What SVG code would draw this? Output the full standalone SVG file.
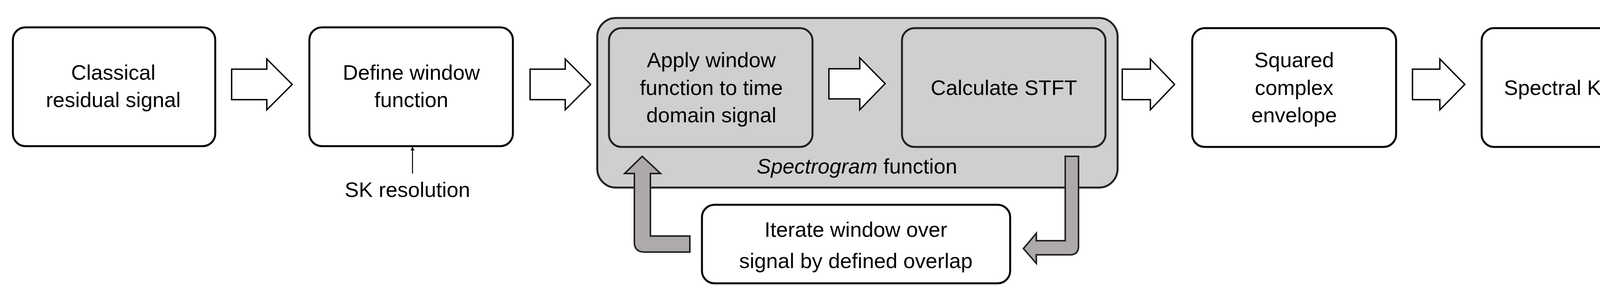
<svg xmlns="http://www.w3.org/2000/svg" width="4361" height="760" viewBox="0 0 4361 760">
<defs>
<style>
.box{fill:#fff;stroke:#000;stroke-width:5}
.gbox{fill:#d0cece;stroke:#222;stroke-width:5}
.blk{fill:#fff;stroke:#000;stroke-width:3.5}
.gar{fill:#aeaaaa;stroke:#222;stroke-width:4}
text{font-family:"Liberation Sans",Arial,sans-serif;font-size:54px;fill:#000;text-anchor:middle}
</style>
<marker id="ah" markerWidth="10" markerHeight="10" refX="9" refY="5" orient="auto" markerUnits="userSpaceOnUse" viewBox="0 0 10 10"><path d="M0,0 L10,5 L0,10 z" fill="#000"/></marker>
</defs>
<rect width="4361" height="760" fill="#fff"/>
<g id="n1"><rect class="box" x="33" y="70" width="518" height="304" rx="32"/><text x="290" y="204">Classical</text><text x="290" y="274">residual signal</text></g>
<g id="n2"><rect class="box" x="792" y="70" width="521" height="304" rx="32"/><text x="1053" y="204">Define window</text><text x="1053" y="274">function</text></g>
<g id="spectrogram"><rect class="gbox" x="1529" y="46" width="1332" height="434" rx="48"/><text x="2194" y="444"><tspan font-style="italic">Spectrogram</tspan> function</text></g>
<g id="n3"><rect class="gbox" x="1559" y="72" width="521" height="304" rx="32"/><text x="1821" y="172">Apply window</text><text x="1821" y="243">function to time</text><text x="1821" y="313">domain signal</text></g>
<g id="n4"><rect class="gbox" x="2309" y="72" width="521" height="304" rx="32"/><text x="2570" y="243">Calculate STFT</text></g>
<g id="n5"><rect class="box" x="1797" y="524" width="789" height="201" rx="32"/><text x="2191" y="606">Iterate window over</text><text x="2191" y="686">signal by defined overlap</text></g>
<g id="n6"><rect class="box" x="3052" y="72" width="522" height="304" rx="32"/><text x="3313" y="172">Squared</text><text x="3313" y="243">complex</text><text x="3313" y="313">envelope</text></g>
<g id="n7"><rect class="box" x="3793" y="72" width="522" height="304" rx="32"/><text x="4054" y="243">Spectral Kurtosis</text></g>
<text x="1043" y="504">SK resolution</text>
<g id="connectors">
<path class="blk" d="M593,177 H683 V151 L748,216 L683,281 V255 H593 Z"/>
<path class="blk" d="M1357,177 H1447 V151 L1512,216 L1447,281 V255 H1357 Z"/>
<path class="blk" d="M2122,176 H2201 V148 L2266,214 L2201,281 V253 H2122 Z"/>
<path class="blk" d="M2873,177 H2945 V151 L3007,216 L2945,281 V255 H2873 Z"/>
<path class="blk" d="M3616,177 H3686 V151 L3750,216 L3686,281 V255 H3616 Z"/>
<line x1="1056" y1="444" x2="1056" y2="376" stroke="#000" stroke-width="2.5" marker-end="url(#ah)"/>
<path class="gar" d="M1766,645 H1650 Q1624,645 1624,620 V444 H1599 L1644,400 L1691,444 H1665 V604 H1766 Z"/>
<path class="gar" d="M2727,400 H2761 V630 Q2761,652 2739,652 H2653 V674 L2620,636 L2653,597 V616 H2727 Z"/>
</g>
</svg>
